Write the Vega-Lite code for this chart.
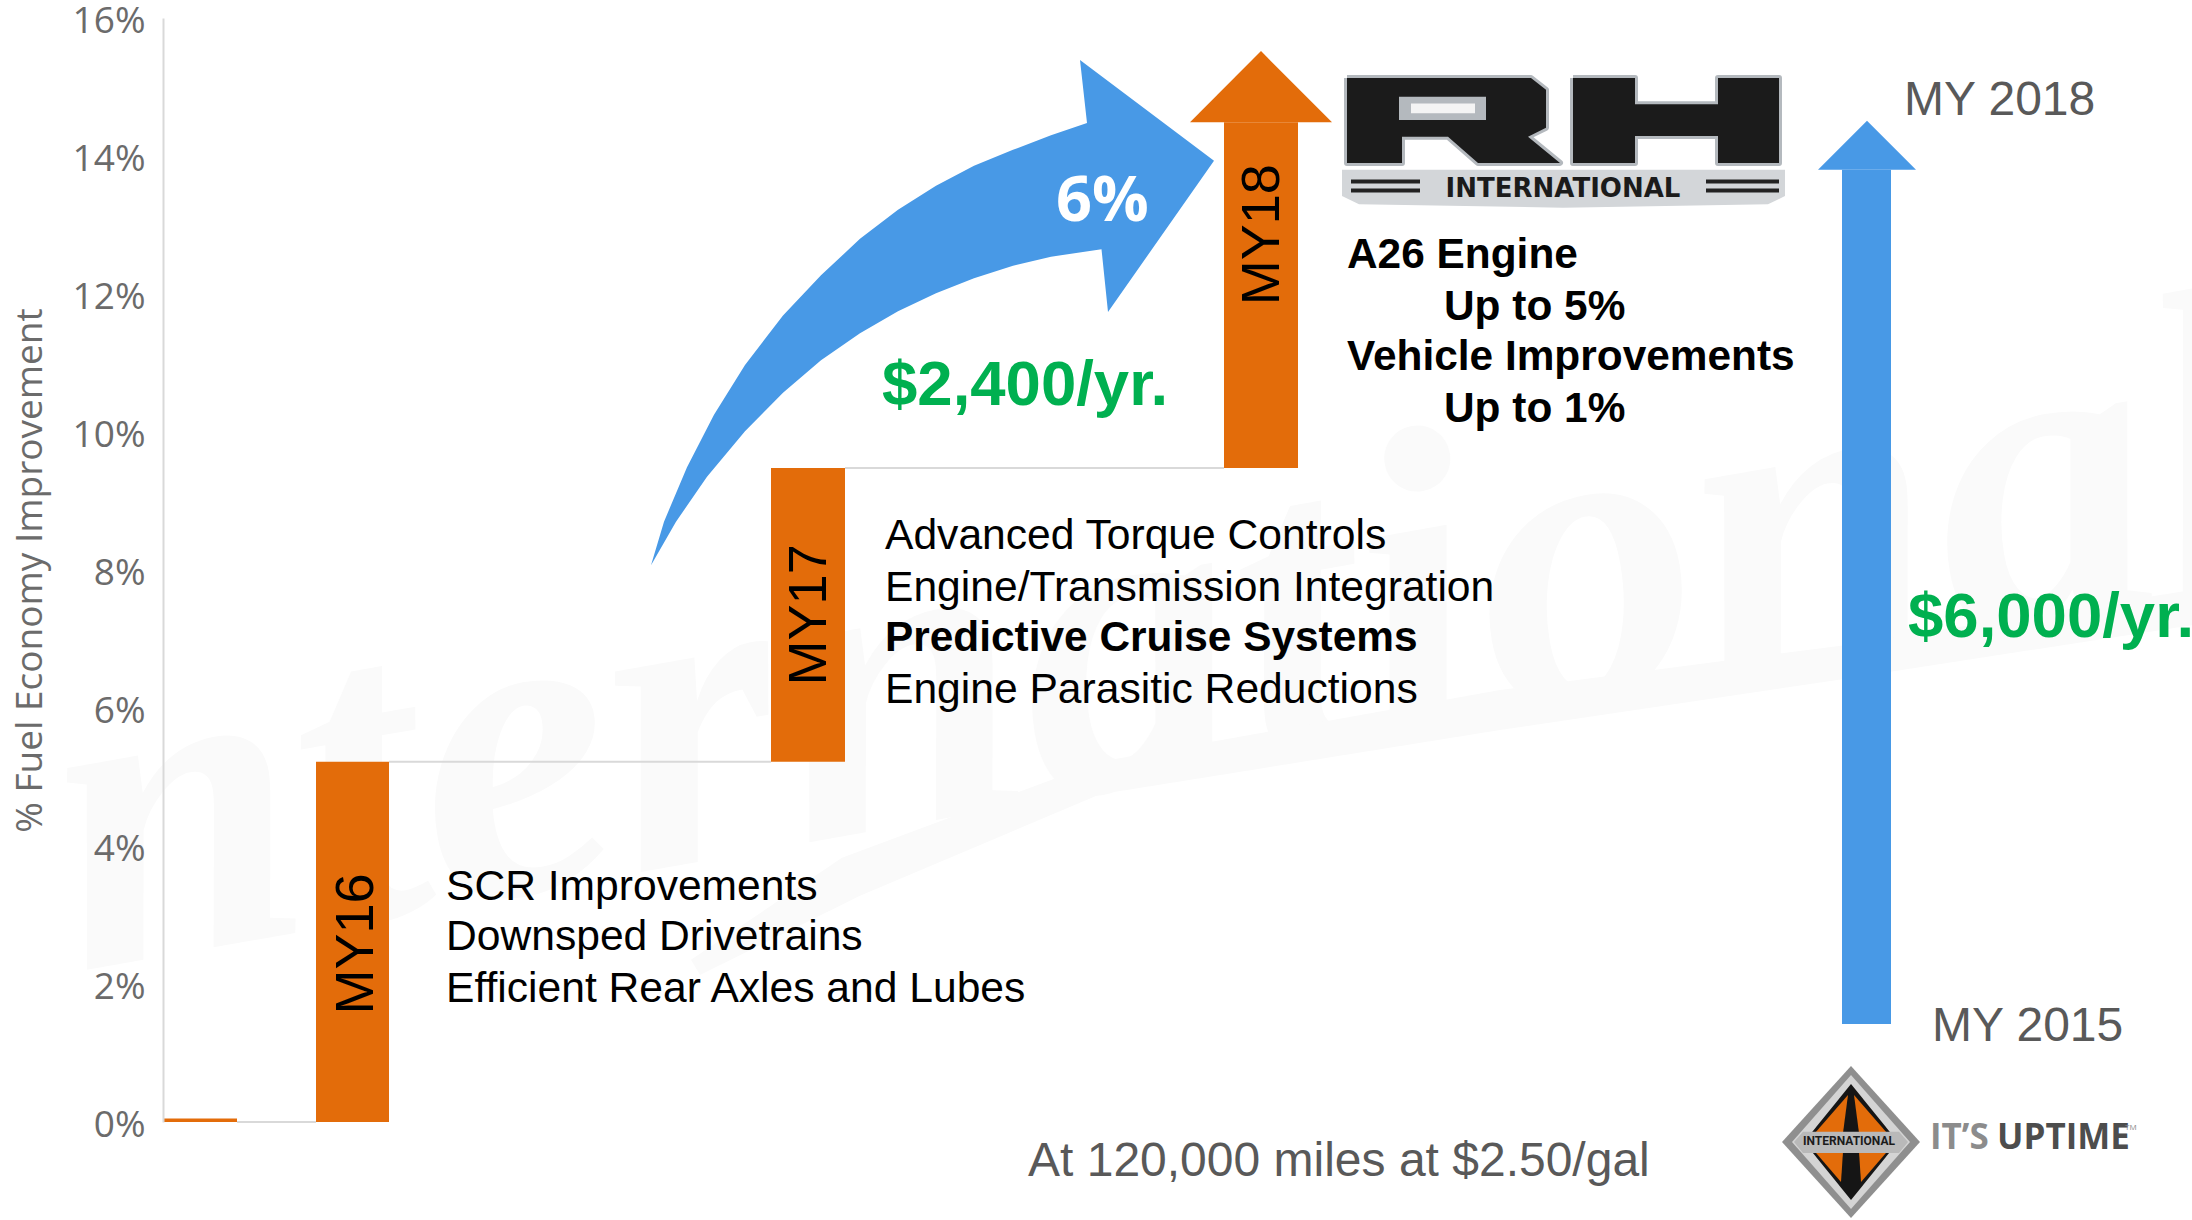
{"$schema":"https://vega.github.io/schema/vega-lite/v6.json","width":2029,"height":1104,"autosize":{"type":"none"},"padding":{"left":163,"top":18,"right":0,"bottom":98},"background":"white","config":{"view":{"stroke":null}},
"datasets":{
"bars":[{"name":"MY15","x":0,"x2":74,"y":0,"y2":0.05},{"name":"MY16","x":153,"x2":226,"y":0,"y2":5.22},{"name":"MY17","x":608,"x2":682,"y":5.22,"y2":9.48},{"name":"MY18","x":1061,"x2":1135,"y":9.48,"y2":14.49}],
"total":[{"name":"MY15-MY18","x":1679,"x2":1728,"y":1.42,"y2":13.8}],
"connectors":[{"x":74,"x2":153,"y":0},{"x":226,"x2":608,"y":5.22},{"x":682,"x2":1061,"y":9.48}],
"stripes":[{"x":1188,"x2":1257,"y":13.63},{"x":1188,"x2":1257,"y":13.5},{"x":1543,"x2":1616,"y":13.63},{"x":1543,"x2":1616,"y":13.5}],
"wm":[{"t":"nternational","x":1000,"y":6.9}],
"swoosh":[{"s":"swoosh","i":0,"x":528,"y":2.35},{"s":"swoosh","i":1,"x":679,"y":3.83},{"s":"swoosh","i":2,"x":937,"y":5.22},{"s":"swoosh","i":3,"x":1337,"y":6.26},{"s":"swoosh","i":4,"x":1676,"y":6.9},{"s":"swoosh","i":5,"x":2029,"y":7.71},{"s":"swoosh","i":6,"x":2029,"y":7.2},{"s":"swoosh","i":7,"x":1676,"y":6.41},{"s":"swoosh","i":8,"x":1337,"y":5.68},{"s":"swoosh","i":9,"x":937,"y":4.75},{"s":"swoosh","i":10,"x":697,"y":3.28},{"s":"swoosh","i":11,"x":537,"y":2.13}],
"shapes":[
{"s":"curve","i":0,"x":488,"y":8.07},{"s":"curve","i":1,"x":501,"y":8.7},{"s":"curve","i":2,"x":524,"y":9.49},{"s":"curve","i":3,"x":551,"y":10.25},{"s":"curve","i":4,"x":582,"y":10.97},{"s":"curve","i":5,"x":620,"y":11.69},{"s":"curve","i":6,"x":658,"y":12.27},{"s":"curve","i":7,"x":697,"y":12.8},{"s":"curve","i":8,"x":735,"y":13.22},{"s":"curve","i":9,"x":773,"y":13.57},{"s":"curve","i":10,"x":811,"y":13.86},{"s":"curve","i":11,"x":850,"y":14.09},{"s":"curve","i":12,"x":888,"y":14.3},{"s":"curve","i":13,"x":924,"y":14.48},{"s":"curve","i":14,"x":917,"y":15.39},{"s":"curve","i":15,"x":1051,"y":13.93},{"s":"curve","i":16,"x":945,"y":11.74},{"s":"curve","i":17,"x":938.5,"y":12.65},{"s":"curve","i":18,"x":888,"y":12.54},{"s":"curve","i":19,"x":850,"y":12.41},{"s":"curve","i":20,"x":811,"y":12.23},{"s":"curve","i":21,"x":773,"y":12.01},{"s":"curve","i":22,"x":735,"y":11.75},{"s":"curve","i":23,"x":697,"y":11.43},{"s":"curve","i":24,"x":658,"y":11.04},{"s":"curve","i":25,"x":620,"y":10.57},{"s":"curve","i":26,"x":582,"y":10.01},{"s":"curve","i":27,"x":544,"y":9.35},{"s":"curve","i":28,"x":513,"y":8.7},
{"s":"orangehead","i":0,"x":1027,"y":14.49},{"s":"orangehead","i":1,"x":1098,"y":15.52},{"s":"orangehead","i":2,"x":1169,"y":14.49},
{"s":"bluehead","i":0,"x":1655,"y":13.8},{"s":"bluehead","i":1,"x":1704,"y":14.51},{"s":"bluehead","i":2,"x":1753,"y":13.8},
{"s":"band","i":0,"x":1179,"y":13.8},{"s":"band","i":1,"x":1622,"y":13.8},{"s":"band","i":2,"x":1622,"y":13.42},{"s":"band","i":3,"x":1605,"y":13.3},{"s":"band","i":4,"x":1400,"y":13.25},{"s":"band","i":5,"x":1196,"y":13.3},{"s":"band","i":6,"x":1179,"y":13.42},
{"s":"R","i":0,"x":1184,"y":15.13},{"s":"R","i":1,"x":1368,"y":15.13},{"s":"R","i":2,"x":1383,"y":14.96},{"s":"R","i":3,"x":1383,"y":14.41},{"s":"R","i":4,"x":1365,"y":14.28},{"s":"R","i":5,"x":1397,"y":13.9},{"s":"R","i":6,"x":1315,"y":13.9},{"s":"R","i":7,"x":1285,"y":14.28},{"s":"R","i":8,"x":1239,"y":14.28},{"s":"R","i":9,"x":1239,"y":13.9},{"s":"R","i":10,"x":1184,"y":13.9},{"s":"R","i":11,"x":1184,"y":15.13},
{"s":"H","i":0,"x":1410,"y":15.13},{"s":"H","i":1,"x":1472,"y":15.13},{"s":"H","i":2,"x":1472,"y":14.75},{"s":"H","i":3,"x":1555,"y":14.75},{"s":"H","i":4,"x":1555,"y":15.13},{"s":"H","i":5,"x":1616,"y":15.13},{"s":"H","i":6,"x":1616,"y":13.9},{"s":"H","i":7,"x":1555,"y":13.9},{"s":"H","i":8,"x":1555,"y":14.29},{"s":"H","i":9,"x":1472,"y":14.29},{"s":"H","i":10,"x":1472,"y":13.9},{"s":"H","i":11,"x":1410,"y":13.9},{"s":"H","i":12,"x":1410,"y":15.13},
{"s":"hole","i":0,"x":1236,"y":14.86},{"s":"hole","i":1,"x":1323,"y":14.86},{"s":"hole","i":2,"x":1323,"y":14.52},{"s":"hole","i":3,"x":1236,"y":14.52},
{"s":"holecore","i":0,"x":1248,"y":14.76},{"s":"holecore","i":1,"x":1312,"y":14.76},{"s":"holecore","i":2,"x":1312,"y":14.62},{"s":"holecore","i":3,"x":1248,"y":14.62},
{"s":"d1","i":0,"x":1688,"y":0.81},{"s":"d1","i":1,"x":1757,"y":-0.29},{"s":"d1","i":2,"x":1688,"y":-1.39},{"s":"d1","i":3,"x":1619,"y":-0.29},
{"s":"d2","i":0,"x":1688,"y":0.68},{"s":"d2","i":1,"x":1747,"y":-0.29},{"s":"d2","i":2,"x":1688,"y":-1.26},{"s":"d2","i":3,"x":1629,"y":-0.29},
{"s":"d3","i":0,"x":1688,"y":0.55},{"s":"d3","i":1,"x":1735,"y":-0.29},{"s":"d3","i":2,"x":1688,"y":-1.13},{"s":"d3","i":3,"x":1641,"y":-0.29},
{"s":"o1","i":0,"x":1685,"y":0.39},{"s":"o1","i":1,"x":1652,"y":-0.16},{"s":"o1","i":2,"x":1680,"y":-0.16},
{"s":"o2","i":0,"x":1691,"y":0.39},{"s":"o2","i":1,"x":1724,"y":-0.16},{"s":"o2","i":2,"x":1696,"y":-0.16},
{"s":"o3","i":0,"x":1652,"y":-0.43},{"s":"o3","i":1,"x":1680,"y":-0.43},{"s":"o3","i":2,"x":1678,"y":-0.87},
{"s":"o4","i":0,"x":1724,"y":-0.43},{"s":"o4","i":1,"x":1696,"y":-0.43},{"s":"o4","i":2,"x":1698,"y":-0.87},
{"s":"dband","i":0,"x":1640,"y":-0.14},{"s":"dband","i":1,"x":1736,"y":-0.14},{"s":"dband","i":2,"x":1745,"y":-0.29},{"s":"dband","i":3,"x":1736,"y":-0.45},{"s":"dband","i":4,"x":1640,"y":-0.45},{"s":"dband","i":5,"x":1631,"y":-0.29}
],
"body":[{"t":"SCR Improvements","x":283,"y":3.43},{"t":"Downsped Drivetrains","x":283,"y":2.71},{"t":"Efficient Rear Axles and Lubes","x":283,"y":1.96},{"t":"Advanced Torque Controls","x":722,"y":8.52},{"t":"Engine/Transmission Integration","x":722,"y":7.77},{"t":"Engine Parasitic Reductions","x":722,"y":6.29}],
"bold":[{"t":"Predictive Cruise Systems","x":722,"y":7.04},{"t":"A26 Engine","x":1184,"y":12.59},{"t":"Up to 5%","x":1281,"y":11.84},{"t":"Vehicle Improvements","x":1184,"y":11.12},{"t":"Up to 1%","x":1281,"y":10.36}],
"green":[{"t":"$2,400/yr.","x":719,"y":10.68},{"t":"$6,000/yr.","x":1745,"y":7.32}],
"gray":[{"t":"MY 2018","x":1741,"y":14.83},{"t":"MY 2015","x":1769,"y":1.41},{"t":"At 120,000 miles at $2.50/gal","x":865,"y":-0.55}],
"my":[{"t":"MY16","x":194,"y":2.58},{"t":"MY17","x":647,"y":7.35},{"t":"MY18","x":1100,"y":12.86}],
"pct":[{"t":"6%","x":893,"y":13.38}],
"rhname":[{"t":"INTERNATIONAL","x":1400,"y":13.52}],
"dname":[{"t":"INTERNATIONAL","x":1686,"y":-0.27}],
"its":[{"t":"IT’S","x":1767,"y":-0.23}],
"up":[{"t":"UPTIME","x":1834,"y":-0.23}],
"tm":[{"t":"TM","x":1962,"y":-0.09}]
},
"encoding":{
"x":{"field":"x","type":"quantitative","scale":{"domain":[0,2029],"nice":false,"zero":false},"axis":null},
"y":{"field":"y","type":"quantitative","scale":{"domain":[0,16],"nice":false,"zero":false},"axis":{"zindex":1,"title":"% Fuel Economy Improvement","values":[0,2,4,6,8,10,12,14,16],"labelExpr":"datum.value + '%'","labelFont":"Open Sans","labelFontSize":37,"labelColor":"#6b6b6b","labelPadding":18,"labelOffset":3,"ticks":false,"grid":false,"domainColor":"#d9d9d9","domainWidth":2,"titleFont":"Open Sans","titleFontSize":37,"titleFontWeight":"normal","titleColor":"#6b6b6b","titlePadding":23,"labelOverlap":false}}
},
"layer":[
{"data":{"name":"wm"},"mark":{"type":"text","font":"Liberation Serif","fontStyle":"italic","fontWeight":"bold","fontSize":440,"angle":350,"color":"#fafafa","align":"center","baseline":"middle"},"encoding":{"text":{"field":"t"}}},
{"data":{"name":"swoosh"},"mark":{"type":"line","filled":true,"strokeWidth":0,"color":"#fafafa"},"encoding":{"order":{"field":"i"}}},
{"data":{"name":"connectors"},"mark":{"type":"rule","color":"#d9d9d9","strokeWidth":2},"encoding":{"x2":{"field":"x2"}}},
{"data":{"name":"bars"},"mark":{"type":"rect","color":"#E36C0A"},"encoding":{"x2":{"field":"x2"},"y2":{"field":"y2"}}},
{"data":{"name":"total"},"mark":{"type":"rect","color":"#4899E6"},"encoding":{"x2":{"field":"x2"},"y2":{"field":"y2"}}},
{"data":{"name":"shapes"},"transform":[{"filter":"datum.s==='R'||datum.s==='H'"}],"mark":{"type":"line","color":"#b4b9be","strokeWidth":6,"strokeJoin":"round"},"encoding":{"detail":{"field":"s"},"order":{"field":"i"}}},
{"data":{"name":"shapes"},"mark":{"type":"line","filled":true,"strokeWidth":0},"encoding":{"detail":{"field":"s"},"order":{"field":"i"},"color":{"field":"s","type":"nominal","legend":null,"scale":{"domain":["curve","orangehead","bluehead","band","R","H","hole","holecore","d1","d2","d3","o1","o2","o3","o4","dband"],"range":["#4899E6","#E36C0A","#4899E6","#d3d6d9","#1b1b1b","#1b1b1b","#b4b9be","#f4f4f4","#8f8f8f","#d4d4d4","#151515","#E36C0A","#E36C0A","#E36C0A","#E36C0A","#b9b9b9"]}}}},
{"data":{"name":"stripes"},"mark":{"type":"rule","color":"#222222","strokeWidth":4},"encoding":{"x2":{"field":"x2"}}},
{"data":{"name":"body"},"mark":{"type":"text","font":"Liberation Sans","fontSize":42.6,"dy":2,"color":"#000000","align":"left","baseline":"middle"},"encoding":{"text":{"field":"t"}}},
{"data":{"name":"bold"},"mark":{"type":"text","font":"Liberation Sans","fontWeight":"bold","fontSize":42.4,"dy":2,"color":"#000000","align":"left","baseline":"middle"},"encoding":{"text":{"field":"t"}}},
{"data":{"name":"green"},"mark":{"type":"text","font":"Liberation Sans","fontWeight":"bold","fontSize":63.5,"dy":1,"color":"#00B050","align":"left","baseline":"middle"},"encoding":{"text":{"field":"t"}}},
{"data":{"name":"gray"},"mark":{"type":"text","font":"Liberation Sans","fontSize":48,"dy":2,"color":"#595959","align":"left","baseline":"middle"},"encoding":{"text":{"field":"t"}}},
{"data":{"name":"my"},"mark":{"type":"text","font":"Liberation Sans","fontSize":54,"angle":270,"color":"#000000","align":"center","baseline":"middle"},"encoding":{"text":{"field":"t"}}},
{"data":{"name":"pct"},"mark":{"type":"text","font":"Open Sans","fontWeight":"bold","fontSize":63,"dy":3,"color":"#ffffff","align":"left","baseline":"middle"},"encoding":{"text":{"field":"t"}}},
{"data":{"name":"rhname"},"mark":{"type":"text","font":"DejaVu Sans","fontWeight":"bold","fontSize":26,"color":"#1b1b1b","align":"center","baseline":"middle"},"encoding":{"text":{"field":"t"}}},
{"data":{"name":"dname"},"mark":{"type":"text","font":"Roboto","fontWeight":"bold","fontSize":12,"color":"#1b1b1b","align":"center","baseline":"middle"},"encoding":{"text":{"field":"t"}}},
{"data":{"name":"its"},"mark":{"type":"text","font":"Open Sans","fontWeight":"bold","fontSize":35,"color":"#8c8c8c","align":"left","baseline":"middle"},"encoding":{"text":{"field":"t"}}},
{"data":{"name":"up"},"mark":{"type":"text","font":"Open Sans","fontWeight":"bold","fontSize":35,"color":"#4d4d4d","align":"left","baseline":"middle"},"encoding":{"text":{"field":"t"}}},
{"data":{"name":"tm"},"mark":{"type":"text","font":"Open Sans","fontSize":8,"color":"#8c8c8c","align":"left","baseline":"middle"},"encoding":{"text":{"field":"t"}}}
]}
